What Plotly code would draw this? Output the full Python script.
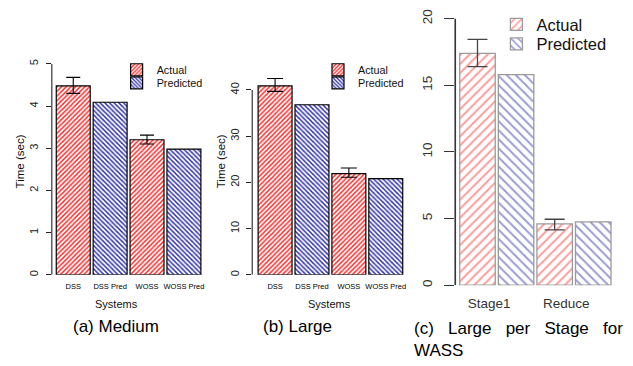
import plotly.graph_objects as go

# ---- data -------------------------------------------------------------
systems = ["DSS", "DSS Pred", "WOSS", "WOSS Pred"]
actual_systems = ["DSS", "WOSS"]
pred_systems = ["DSS Pred", "WOSS Pred"]

medium_actual = [4.48, 3.20]
medium_actual_low = [4.30, 3.10]
medium_actual_high = [4.68, 3.31]
medium_pred = [4.09, 2.98]

large_actual = [40.9, 21.9]
large_actual_low = [39.7, 21.1]
large_actual_high = [42.5, 23.1]
large_pred = [36.8, 20.8]

stages = ["Stage1", "Reduce"]
stage_actual = [17.4, 4.6]
stage_actual_low = [16.4, 4.15]
stage_actual_high = [18.45, 4.95]
stage_pred = [15.8, 4.75]

medium_ticks = [0, 1, 2, 3, 4, 5]
large_ticks = [0, 10, 20, 30, 40]
stage_ticks = [0, 5, 10, 15, 20]

captions = ["(a) Medium", "(b) Large",
            "(c)&nbsp;&nbsp; Large&nbsp;&nbsp; per&nbsp;&nbsp; Stage&nbsp;&nbsp; for<br>WASS"]

# ---- page geometry helpers -------------------------------------------
W, H = 633, 366
FONT = "Liberation Sans, Arial, Helvetica, sans-serif"


def px(x):
    return x / W


def py(y):
    return 1 - y / H


def err(vals, lo, hi):
    return dict(type="data", symmetric=False,
                array=[h - v for v, h in zip(vals, hi)],
                arrayminus=[v - l for v, l in zip(vals, lo)])


RED, BLUE = "#ff1f1f", "#2a2aa8"
PINK, LAV = "#ff9a9a", "#9a9ad6"

fig = go.Figure()


def hatched(fg, shape, size, solidity):
    return dict(shape=shape, fgcolor=fg, bgcolor="white",
                size=size, solidity=solidity, fillmode="replace")


# (a) Medium
fig.add_trace(go.Bar(
    x=actual_systems, y=medium_actual, width=0.92, name="Actual",
    xaxis="x", yaxis="y", legend="legend",
    marker=dict(color="white", line=dict(color="black", width=1.2),
                pattern=hatched(RED, "/", 3.3, 0.45)),
    error_y=dict(**err(medium_actual, medium_actual_low, medium_actual_high),
                 color="black", thickness=1.1, width=7),
))
fig.add_trace(go.Bar(
    x=pred_systems, y=medium_pred, width=0.92, name="Predicted",
    xaxis="x", yaxis="y", legend="legend2",
    marker=dict(color="white", line=dict(color="black", width=1.2),
                pattern=hatched(BLUE, "\\", 3.3, 0.45)),
))

# (b) Large
fig.add_trace(go.Bar(
    x=actual_systems, y=large_actual, width=0.92, name="Actual",
    xaxis="x2", yaxis="y2", legend="legend3",
    marker=dict(color="white", line=dict(color="black", width=1.2),
                pattern=hatched(RED, "/", 3.3, 0.45)),
    error_y=dict(**err(large_actual, large_actual_low, large_actual_high),
                 color="black", thickness=1.1, width=8),
))
fig.add_trace(go.Bar(
    x=pred_systems, y=large_pred, width=0.92, name="Predicted",
    xaxis="x2", yaxis="y2", legend="legend4",
    marker=dict(color="white", line=dict(color="black", width=1.2),
                pattern=hatched(BLUE, "\\", 3.3, 0.45)),
))

# (c) Large per stage: actual / predicted side by side for each stage
stage_actual_x = [2 * i for i in range(len(stages))]
stage_pred_x = [2 * i + 1 for i in range(len(stages))]
fig.add_trace(go.Bar(
    x=stage_actual_x, y=stage_actual, width=0.92, name="Actual",
    xaxis="x3", yaxis="y3", legend="legend5",
    marker=dict(color="white", line=dict(color="#9a9a9a", width=1.3),
                pattern=hatched(PINK, "/", 6.4, 0.3)),
    error_y=dict(**err(stage_actual, stage_actual_low, stage_actual_high),
                 color="#444444", thickness=1.3, width=10),
))
fig.add_trace(go.Bar(
    x=stage_pred_x, y=stage_pred, width=0.92, name="Predicted",
    xaxis="x3", yaxis="y3", legend="legend6",
    marker=dict(color="white", line=dict(color="#9a9a9a", width=1.3),
                pattern=hatched(LAV, "\\", 6.4, 0.3)),
))

# ---- axes ---------------------------------------------------------------
def cat_xaxis(x0, x1, lo):
    return dict(domain=[px(x0), px(x1)], type="category",
                categoryorder="array", categoryarray=systems,
                range=[lo, 3.5], showline=False, showgrid=False,
                zeroline=False, ticks="", ticklabelstandoff=6,
                tickfont=dict(family=FONT, size=7.5, color="black"))


def val_yaxis(anchor, y0, y1, rng, ticks, size, ticklen, standoff, color):
    return dict(anchor=anchor, domain=[py(y0), py(y1)], range=rng,
                tickvals=ticks, ticks="outside", ticklen=ticklen,
                tickcolor=color, tickwidth=1.1, tickangle=-90,
                ticklabelstandoff=standoff,
                showline=False, showgrid=False, zeroline=False,
                tickfont=dict(family=FONT, size=size, color=color))


fig.update_layout(
    xaxis=dict(anchor="y", **cat_xaxis(52, 203, -0.58)),
    yaxis=val_yaxis("x", 275, 60, [0, 5], medium_ticks, 11, 5, 3, "#222"),
    xaxis2=dict(anchor="y2", **cat_xaxis(253, 405.5, -0.62)),
    yaxis2=val_yaxis("x2", 275, 67.8, [0, 44], large_ticks, 11, 5, 3, "#222"),
    xaxis3=dict(anchor="y3", domain=[px(456.7), px(614.5)], range=[-0.576, 3.5],
                tickvals=[2 * i + 0.3 for i in range(len(stages))],
                ticktext=stages, ticks="", ticklabelstandoff=8,
                showline=False, showgrid=False, zeroline=False,
                tickfont=dict(family=FONT, size=13.5, color="#333")),
    yaxis3=val_yaxis("x3", 285.7, 0.4, [0, 21], stage_ticks, 13.5, 10, 7, "#333"),
)

# value-axis lines spanning only the labelled tick range
for yref, ticks, color, w in [("y", medium_ticks, "#222", 1.1),
                              ("y2", large_ticks, "#222", 1.1),
                              ("y3", stage_ticks, "#333", 1.6)]:
    xref = "x" if yref == "y" else "x" + yref[1:]
    fig.add_shape(type="line", xref=f"{xref} domain", yref=yref,
                  x0=0, x1=0, y0=ticks[0], y1=ticks[-1],
                  line=dict(color=color, width=w))

# ---- legends (one entry each so spacing can be set freely) ---------------
def legend_at(text_x, center_y, size):
    return dict(x=px(text_x - 40), y=py(center_y), xanchor="left",
                yanchor="middle", bgcolor="rgba(0,0,0,0)", borderwidth=0,
                font=dict(family=FONT, size=size, color="#111"),
                itemwidth=30, tracegroupgap=0)


fig.update_layout(
    legend=legend_at(157, 66, 10.8),
    legend2=legend_at(157, 79.3, 10.8),
    legend3=legend_at(359, 66, 10.8),
    legend4=legend_at(359, 79.3, 10.8),
    legend5=legend_at(538, 20, 16.5),
    legend6=legend_at(538, 40, 16.5),
)

# ---- axis titles and captions -----------------------------------------
notes = [
    dict(text="Systems", x=117, y=305, size=11, angle=0),
    dict(text="Time (sec)", x=20.5, y=159, size=11.5, angle=-90),
    dict(text="Systems", x=331, y=305, size=11, angle=0),
    dict(text="Time (sec)", x=222, y=159, size=11.5, angle=-90),
]
for n in notes:
    fig.add_annotation(text=n["text"], x=px(n["x"]), y=py(n["y"]),
                       xref="paper", yref="paper", showarrow=False,
                       xanchor="center", yanchor="middle", textangle=n["angle"],
                       font=dict(family=FONT, size=n["size"], color="#111"))

fig.add_annotation(text=captions[0], x=px(116), y=py(328), xref="paper", yref="paper",
                   showarrow=False, xanchor="center", yanchor="middle",
                   font=dict(family=FONT, size=17, color="black"))
fig.add_annotation(text=captions[1], x=px(298), y=py(328), xref="paper", yref="paper",
                   showarrow=False, xanchor="center", yanchor="middle",
                   font=dict(family=FONT, size=17, color="black"))
fig.add_annotation(text=captions[2], x=px(413), y=py(318), xref="paper", yref="paper",
                   showarrow=False, xanchor="left", yanchor="top", align="left",
                   font=dict(family=FONT, size=17, color="black"))

fig.update_layout(
    width=W, height=H, autosize=False,
    margin=dict(l=0, r=0, t=0, b=0, pad=0),
    paper_bgcolor="white", plot_bgcolor="white",
    barmode="overlay", showlegend=True,
    font=dict(family=FONT),
)

fig.write_html("out.html")
